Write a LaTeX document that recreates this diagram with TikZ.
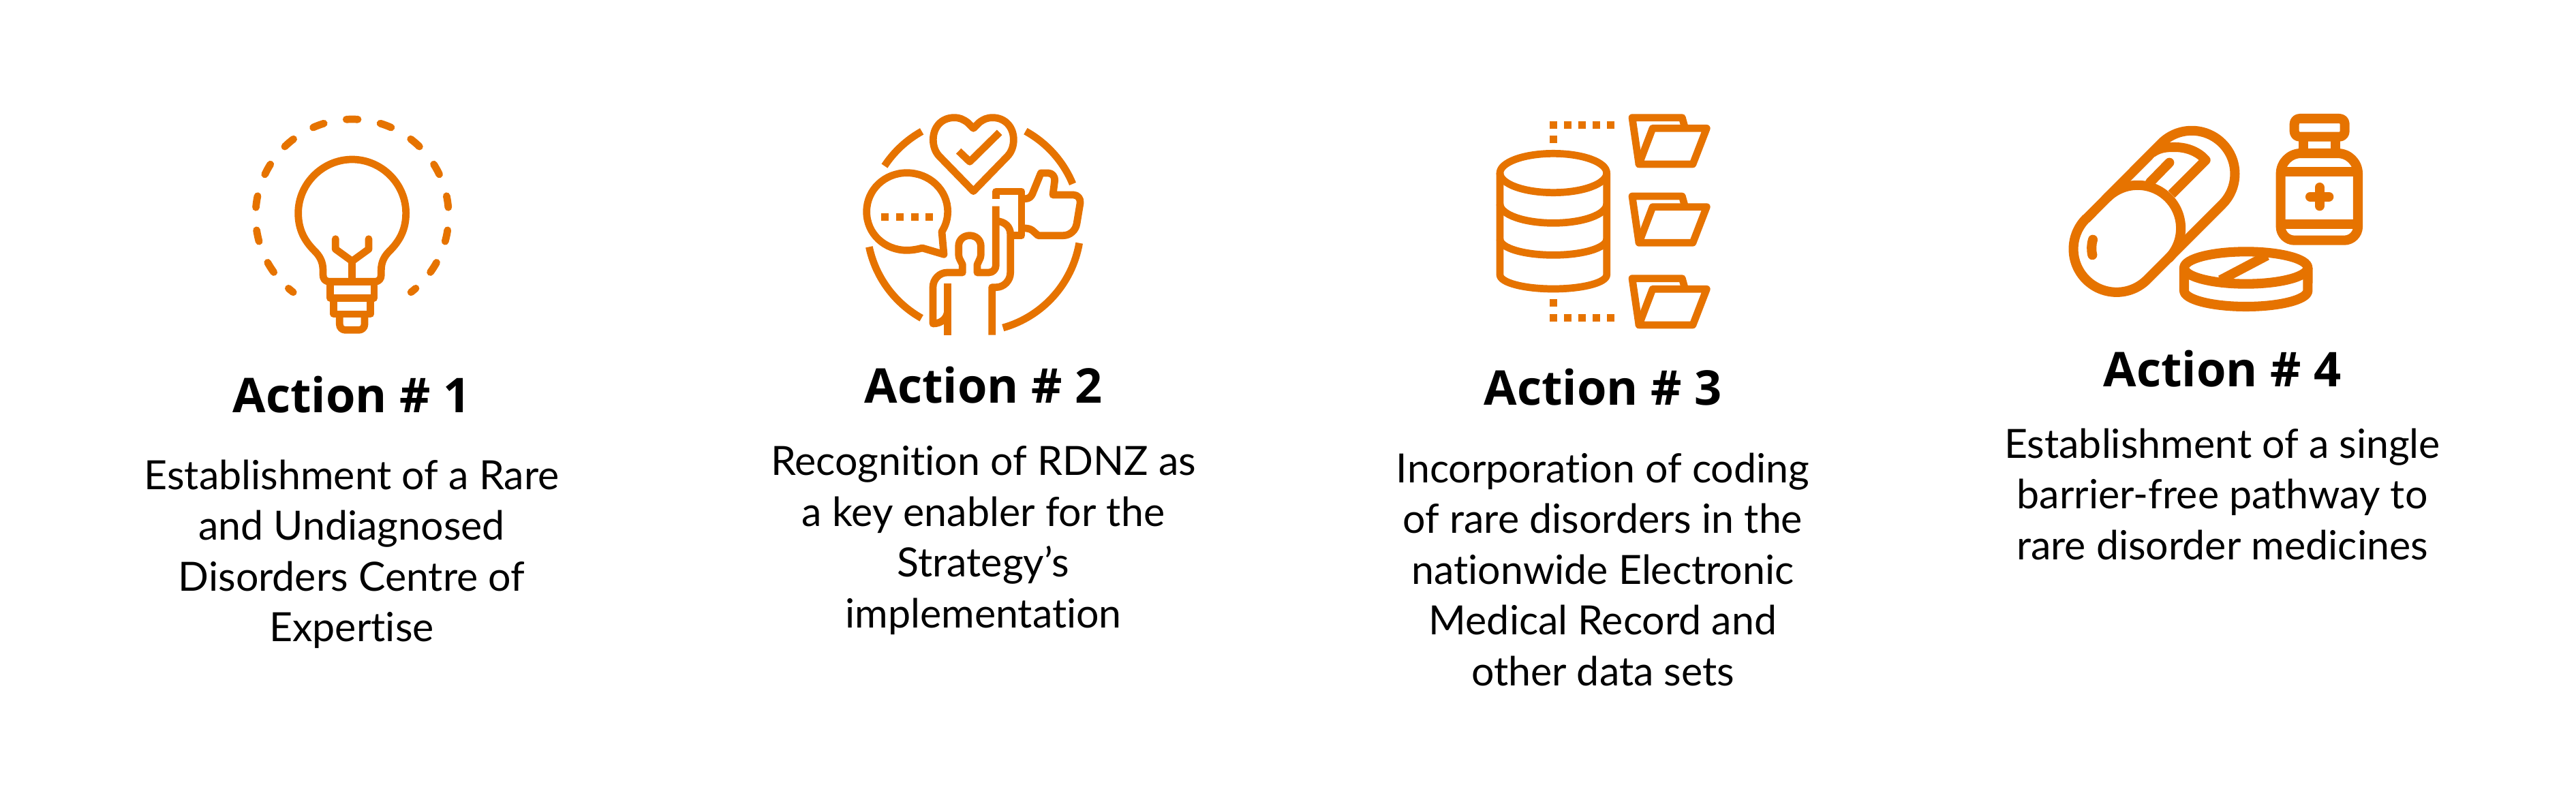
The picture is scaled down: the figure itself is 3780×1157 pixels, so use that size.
\documentclass[tikz,border=0pt]{standalone}
\usepackage{fontspec}
\setmainfont{Lato}[Ligatures=NoCommon]
\newfontfamily\titlefont{Open Sans}
\usepackage{xcolor}
\usepackage{tikz}
\usetikzlibrary{positioning,calc}
\definecolor{actionorange}{HTML}{E67300}
\tikzset{
    iconline/.style={draw=actionorange, line width=3.05pt, line join=round},
    iconthick/.style={draw=actionorange, line width=4pt, line join=round},
    actiontitle/.style={font=\titlefont\bfseries\fontsize{20}{24}\selectfont, anchor=base, inner sep=0pt},
    actionbody/.style={font=\fontsize{16.8}{21.2}\selectfont, anchor=north, align=center, inner sep=0pt}
}

\begin{document}
\begin{tikzpicture}[x=0.01cm, y=-0.01cm]
    \useasboundingbox (0,0) rectangle (3780,1157);
    \fill[white] (0,0) rectangle (3780,1157);

    % Action 1: bulb
    \begin{scope}[shift={(340,140)}, scale=1/3]
        \foreach \a in {-90,-110.4,-130.8,-151.2,-171.6,-192,-212.4,-69.6,-49.2,-28.8,-8.4,12,32.4}
            \draw[iconline, line cap=round] (530,530) ++(\a-3.4:425) arc (\a-3.4:\a+3.4:425);
        \foreach \a in {-230.6,50.6}
            \draw[iconline, line cap=round] (530,530) ++(\a-1.8:425) arc (\a-1.8:\a+1.8:425);
        \draw[iconline] (430,820) .. controls (412,820) and (402,808) .. (402,790) -- (402,770)
            .. controls (402,730) and (385,705) .. (365,685) .. controls (320,640) and (293,590) .. (293,518)
            .. controls (293,390) and (400,282) .. (530,282) .. controls (660,282) and (767,390) .. (767,518)
            .. controls (767,590) and (740,640) .. (695,685) .. controls (675,705) and (658,730) .. (658,770)
            -- (658,790) .. controls (658,808) and (648,820) .. (630,820) -- cycle;
        \draw[iconline] (433,820) rectangle (627,892);
        \draw[iconline] (449,892) rectangle (611,963);
        \draw[iconline] (475,963) -- (475,1008) .. controls (475,1023) and (487,1033) .. (500,1033) -- (560,1033)
            .. controls (573,1033) and (585,1023) .. (585,1008) -- (585,963);
        \draw[iconline, line cap=round] (457,632) -- (457,677) -- (530,730) -- (603,677) -- (603,632);
        \draw[iconline] (530,730) -- (530,820);
    \end{scope}

    % Action 2: heart, speech bubble, person
    \begin{scope}[shift={(1240,140)}, scale=1/3]
        \draw[iconline] (567,570) ++(-119.1:471) arc (-119.1:-146.6:471);
        \draw[iconline] (567,570) ++(-61.1:471) arc (-61.1:-22.5:471);
        \draw[iconline] (567,570) ++(9.8:471) arc (9.8:74.2:471);
        \draw[iconline] (567,570) ++(168.1:471) arc (168.1:119.3:471);
        % heart
        \draw[iconline] (565,145) -- (540,120) .. controls (520,105) and (505,98) .. (480,98)
            .. controls (425,98) and (388,140) .. (388,195) .. controls (388,225) and (398,250) .. (415,268)
            -- (565,422) -- (715,268) .. controls (732,250) and (742,225) .. (742,195)
            .. controls (742,140) and (705,98) .. (650,98) .. controls (625,98) and (610,105) .. (590,120) -- cycle;
        \draw[iconline] (500,245) -- (549,292) -- (680,163);
        % speech bubble
        \draw[iconline] (340,672) .. controls (318,678) and (295,682) .. (272,682)
            .. controls (175,682) and (95,610) .. (95,512) .. controls (95,415) and (175,341) .. (272,341)
            .. controls (370,341) and (452,415) .. (452,512) .. controls (452,545) and (442,575) .. (426,600)
            -- (435,700) -- cycle;
        \foreach \x in {159,225,290,354}
            \fill[actionorange] (\x,520) rectangle ++(33,33);
        % person
        \draw[iconline] (452,828) -- (452,1055);
        \draw[iconline] (452,945) .. controls (452,980) and (425,1005) .. (387,1005) -- (387,845)
            .. controls (387,810) and (415,780) .. (450,780) -- (517,780) -- (517,745) -- (507,725)
            .. controls (502,715) and (500,708) .. (500,700) -- (500,665)
            .. controls (500,635) and (522,617) .. (549,617) .. controls (575,617) and (598,635) .. (598,665)
            -- (598,700) .. controls (598,708) and (596,715) .. (591,725) -- (582,745) -- (582,780) -- (632,780)
            .. controls (652,780) and (664,765) .. (664,748) -- (664,488);
        \draw[iconline] (647,1055) -- (647,845) -- (665,845) .. controls (700,845) and (728,815) .. (728,780)
            -- (728,610) .. controls (728,580) and (705,555) .. (664,553);
        % sleeve and thumb
        \draw[iconline] (664,455) -- (664,423) -- (777,423) -- (777,617) -- (728,617);
        \draw[iconline] (777,455) -- (795,455) .. controls (810,455) and (820,445) .. (825,433) -- (862,342)
            -- (895,342) .. controls (912,342) and (925,358) .. (923,375) -- (915,438) -- (1005,438)
            .. controls (1025,438) and (1038,455) .. (1035,475) -- (1020,565)
            .. controls (1015,595) and (990,617) .. (960,617) -- (850,617) -- (825,595)
            .. controls (815,588) and (805,585) .. (795,585) -- (777,585);
    \end{scope}

    % Action 3: database and folders
    \begin{scope}[shift={(2170,140)}, scale=1/3]
        \draw[iconline] (328,342) ellipse (235 and 86);
        \draw[iconline] (93,342) -- (93,790) arc (180:0:235 and 62) -- (563,342);
        \draw[iconline] (93,478) arc (180:0:235 and 84);
        \draw[iconline] (93,633) arc (180:0:235 and 70);
        \foreach \x in {312,375,438,501,564} {
            \fill[actionorange] (\x,113) rectangle ++(33,33);
            \fill[actionorange] (\x,962) rectangle ++(33,33);
        }
        \fill[actionorange] (312,177) rectangle ++(33,33);
        \fill[actionorange] (312,898) rectangle ++(33,33);
        \foreach \y in {0,346,708} {
            \draw[iconline] (705,303+\y) -- (675,98+\y) -- (895,98+\y) -- (908,145+\y);
            \draw[iconline] (705,303+\y) -- (765,145+\y) -- (1003,145+\y) -- (942,303+\y) -- cycle;
        }
    \end{scope}

    % Action 4: capsule, bottle, tablet
    \begin{scope}[shift={(3010,140)}, scale=1/3]
        \draw[iconthick] (154,543) -- (484,211) arc (225:405:190) -- (422,811) arc (45:225:190) -- cycle;
        \draw[iconthick] (246,451) arc (225:405:190);
        \draw[iconthick] (445,252) .. controls (480,228) and (510,228) .. (545,228)
            .. controls (600,228) and (650,250) .. (680,285) -- (530,435);
        \draw[iconthick, line cap=round] (520,296) -- (435,383);
        \draw[iconthick, line cap=round] (183,635) .. controls (176,660) and (176,680) .. (181,703);
        % bottle
        \draw[iconthick] (1095,102) -- (1267,102) .. controls (1282,102) and (1292,112) .. (1292,127) -- (1292,157)
            .. controls (1292,172) and (1282,182) .. (1267,182) -- (1095,182)
            .. controls (1080,182) and (1070,172) .. (1070,157) -- (1070,127)
            .. controls (1070,112) and (1080,102) .. (1095,102) -- cycle;
        \draw[iconthick] (1110,182) -- (1110,255);
        \draw[iconthick] (1252,182) -- (1252,255);
        \draw[iconthick] (1010,345) .. controls (1010,295) and (1050,255) .. (1100,255) -- (1260,255)
            .. controls (1310,255) and (1350,295) .. (1350,345) -- (1350,578)
            .. controls (1350,612) and (1322,638) .. (1290,638) -- (1070,638)
            .. controls (1038,638) and (1010,612) .. (1010,578) -- cycle;
        \draw[iconthick] (1010,335) -- (1350,335);
        \draw[iconthick] (1010,567) -- (1350,567);
        \draw[iconthick, line cap=round] (1140,446) -- (1222,446);
        \draw[iconthick, line cap=round] (1181,405) -- (1181,487);
        % tablet
        \draw[iconthick] (857,759) ellipse (272 and 71);
        \draw[iconthick] (585,759) -- (585,860) arc (180:0:272 and 70) -- (1130,759);
        \draw[iconthick] (745,813) -- (950,705);
    \end{scope}

    % titles
    \node[actiontitle] (title1) at (516,605) {Action \# 1};
    \node[actiontitle] (title2) at (1443,591) {Action \# 2};
    \node[actiontitle] (title3) at (2352,594) {Action \# 3};
    \node[actiontitle] (title4) at (3261,567) {Action \# 4};

    % body texts
    \node[actionbody] (body1) at (516,674) {Establishment of a Rare\\and Undiagnosed\\Disorders Centre of\\Expertise};
    \node[actionbody] (body2) at (1443,654) {Recognition of RDNZ as\\a key enabler for the\\Strategy’s\\implementation};
    \node[actionbody] (body3) at (2352,664) {Incorporation of coding\\of rare disorders in the\\nationwide Electronic\\Medical Record and\\other data sets};
    \node[actionbody] (body4) at (3261,628) {Establishment of a single\\barrier-free pathway to\\rare disorder medicines};
\end{tikzpicture}
\end{document}
